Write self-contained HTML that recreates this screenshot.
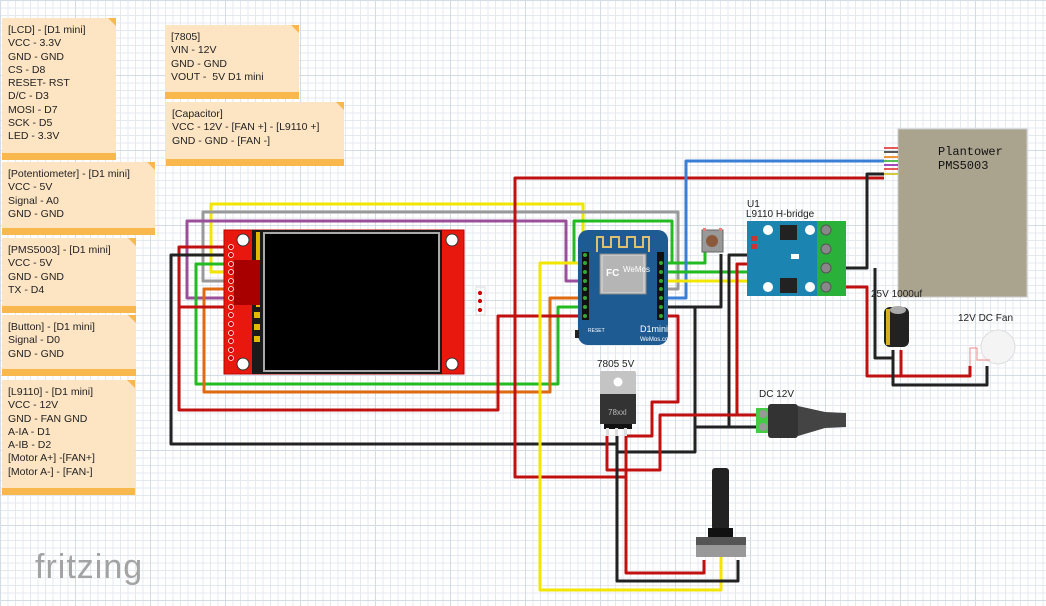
<!DOCTYPE html>
<html><head><meta charset="utf-8"><style>
body{margin:0;width:1046px;height:606px;overflow:hidden;background:#fff;font-family:"Liberation Sans",sans-serif}
.grid{position:absolute;left:0;top:0;width:1046px;height:606px;
background-image:linear-gradient(#d3dbe4 1px,transparent 1px),linear-gradient(90deg,#d3dbe4 1px,transparent 1px),linear-gradient(#e4e9ef 1px,transparent 1px),linear-gradient(90deg,#e4e9ef 1px,transparent 1px);
background-size:75px 75px,75px 75px,7.5px 7.5px,7.5px 7.5px}
.note{position:absolute;background:#fde5c4;font-size:10.5px;line-height:13.3px;color:#222;padding:6px 0 0 6px;box-sizing:border-box;border-bottom:7px solid #f8b84e}
.note:after{content:"";position:absolute;right:0;top:0;border-style:solid;border-width:0 8px 8px 0;border-color:transparent #f8b84e transparent transparent}
svg{position:absolute;left:0;top:0}
</style></head><body>
<div class="grid"></div>
<div class="note" style="left:2px;top:18px;width:114px;height:142px">[LCD] - [D1 mini]<br>VCC - 3.3V<br>GND - GND<br>CS - D8<br>RESET- RST<br>D/C - D3<br>MOSI - D7<br>SCK - D5<br>LED - 3.3V</div>
<div class="note" style="left:165px;top:25px;width:134px;height:74px">[7805]<br>VIN - 12V<br>GND - GND<br>VOUT - &nbsp;5V D1 mini</div>
<div class="note" style="left:166px;top:102px;width:178px;height:64px">[Capacitor]<br>VCC - 12V - [FAN +] - [L9110 +]<br>GND - GND - [FAN -]</div>
<div class="note" style="left:2px;top:162px;width:153px;height:73px">[Potentiometer] - [D1 mini]<br>VCC - 5V<br>Signal - A0<br>GND - GND</div>
<div class="note" style="left:2px;top:238px;width:134px;height:75px">[PMS5003] - [D1 mini]<br>VCC - 5V<br>GND - GND<br>TX - D4</div>
<div class="note" style="left:2px;top:315px;width:134px;height:61px">[Button] - [D1 mini]<br>Signal - D0<br>GND - GND</div>
<div class="note" style="left:2px;top:380px;width:133px;height:115px">[L9110] - [D1 mini]<br>VCC - 12V<br>GND - FAN GND<br>A-IA - D1<br>A-IB - D2<br>[Motor A+] -[FAN+]<br>[Motor A-] - [FAN-]</div>
<div style="position:absolute;left:35px;top:548px;font-size:34px;color:#a3a3a3;letter-spacing:1px">fritzing</div>
<svg width="1046" height="606" viewBox="0 0 1046 606">
<g fill="none" stroke-width="3" stroke-linejoin="round">
<polyline stroke="#f2e600" points="231,272 211,272 211,204 583,204 583,255 586,255"/>
<polyline stroke="#999" points="231,281 203,281 203,212 678,212 678,289 661,289"/>
<polyline stroke="#9b4f9b" points="231,298 187,298 187,221 566,221 566,281 586,281"/>
<polyline stroke="#22bb22" points="586,263 574,263 574,221 672,221 672,263 661,263"/>
<polyline stroke="#22bb22" points="661,263 705,263 705,252"/>
<polyline stroke="#22bb22" points="231,264 196,264 196,384 558,384 558,307 586,307"/>
<polyline stroke="#e06a10" points="231,289 204,289 204,392 550,392 550,298 586,298"/>
<polyline stroke="#c01010" points="231,247 179,247 179,410 498,410 498,316 586,316"/>
<polyline stroke="#c01010" points="231,307 179,307"/>
<polyline stroke="#222" points="231,255 171,255 171,444 617,444 617,436"/>
<polyline stroke="#c01010" points="884,178 515,178 515,477 626,477 626,436"/>
<polyline stroke="#f2e600" points="721,555 721,590 540,590 540,263 583,263"/>
<polyline stroke="#3a7fd5" points="661,298 686,298 686,161 884,161"/>
<polyline stroke="#22bb22" points="661,272 755,272"/>
<polyline stroke="#f2e600" points="661,281 755,281"/>
<polyline stroke="#222" points="661,307 721,307 721,254"/>
<polyline stroke="#222" points="695,307 695,452 617,452"/>
<polyline stroke="#222" points="756,427 695,427"/>
<polyline stroke="#222" points="729,427 729,255 755,255"/>
<polyline stroke="#c01010" points="756,415 660,415 660,470 607,470 607,436"/>
<polyline stroke="#c01010" points="755,264 737,264 737,415"/>
<polyline stroke="#c01010" points="661,316 678,316 678,402 652,402 652,436 626,436"/>
<polyline stroke="#c01010" points="626,436 626,573 704,573 704,560"/>
<polyline stroke="#222" points="617,436 617,581 738,581 738,560"/>
<polyline stroke="#222" points="884,174 867,174 867,268 840,268"/>
<polyline stroke="#222" points="875,268 875,358 893,358"/>
<polyline stroke="#c01010" points="840,287 867,287 867,376 970,376 970,366"/>
<polyline stroke="#c01010" points="901,350 901,376"/>
<polyline stroke="#222" points="893,350 893,385 987,385 987,366"/>
</g>
<rect x="224" y="230" width="240" height="144" fill="#e8180e" stroke="#b00" />
<rect x="260" y="230" width="182" height="144" fill="#1a1a1a"/>
<rect x="264" y="233" width="175" height="138" fill="#000" stroke="#aaa" stroke-width="2"/>
<rect x="252" y="230" width="8" height="144" fill="#1a1a1a"/>
<rect x="256" y="232" width="4" height="75" fill="#e2b800"/>
<rect x="234" y="260" width="26" height="45" fill="#a80000"/>
<rect x="254" y="312" width="6" height="6" fill="#e2b800"/><rect x="254" y="324" width="6" height="6" fill="#e2b800"/><rect x="254" y="336" width="6" height="6" fill="#e2b800"/>
<circle cx="243" cy="240" r="6" fill="#fff" stroke="#333"/><circle cx="243" cy="364" r="6" fill="#fff" stroke="#333"/>
<circle cx="452" cy="240" r="6" fill="#fff" stroke="#333"/><circle cx="452" cy="364" r="6" fill="#fff" stroke="#333"/>
<rect x="476" y="287" width="9" height="28" fill="none" stroke="#ddd"/>
<g fill="#c00" stroke="#fff" stroke-width="0.8"><circle cx="231" cy="247" r="2.5"/><circle cx="231" cy="255" r="2.5"/><circle cx="231" cy="264" r="2.5"/><circle cx="231" cy="272" r="2.5"/><circle cx="231" cy="281" r="2.5"/><circle cx="231" cy="289" r="2.5"/><circle cx="231" cy="298" r="2.5"/><circle cx="231" cy="307" r="2.5"/><circle cx="231" cy="315" r="2.5"/><circle cx="231" cy="324" r="2.5"/><circle cx="231" cy="333" r="2.5"/><circle cx="231" cy="341" r="2.5"/><circle cx="231" cy="350" r="2.5"/><circle cx="231" cy="358" r="2.5"/>
<circle cx="480" cy="293" r="2.5"/><circle cx="480" cy="301" r="2.5"/><circle cx="480" cy="310" r="2.5"/></g>
<rect x="578" y="230" width="90" height="115" rx="10" fill="#1e5b93"/>
<path d="M597 252 V237 H603 V247 H611 V237 H619 V247 H627 V237 H635 V247 H643 V237 H649 V252" fill="none" stroke="#e0c070" stroke-width="2"/>
<rect x="600" y="254" width="46" height="40" fill="#c8c8c8" stroke="#888"/>
<rect x="603" y="256" width="40" height="36" fill="#b5b5b5"/>
<text x="606" y="276" font-size="10" fill="#fff" font-weight="bold">FC</text>
<text x="623" y="272" font-size="8" fill="#fff">WeMos</text>
<g fill="#111"><rect x="582" y="252" width="7" height="68"/><rect x="657" y="252" width="7" height="68"/></g>
<g fill="#3a3" ><circle cx="585" cy="255" r="2"/><circle cx="585" cy="263" r="2"/><circle cx="585" cy="272" r="2"/><circle cx="585" cy="281" r="2"/><circle cx="585" cy="289" r="2"/><circle cx="585" cy="298" r="2"/><circle cx="585" cy="307" r="2"/><circle cx="585" cy="316" r="2"/>
<circle cx="661" cy="263" r="2"/><circle cx="661" cy="272" r="2"/><circle cx="661" cy="281" r="2"/><circle cx="661" cy="289" r="2"/><circle cx="661" cy="298" r="2"/><circle cx="661" cy="307" r="2"/><circle cx="661" cy="316" r="2"/></g>
<text x="588" y="332" font-size="5" fill="#fff">RESET</text>
<text x="640" y="332" font-size="9" fill="#fff">D1mini</text>
<text x="640" y="341" font-size="6" fill="#fff">WeMos.cc</text>
<rect x="575" y="330" width="4" height="8" fill="#222"/>
<rect x="702" y="230" width="21" height="22" fill="#999" stroke="#666"/>
<circle cx="712" cy="241" r="6" fill="#8b5a3c"/>
<rect x="703" y="228" width="3" height="3" fill="#e77"/><rect x="719" y="228" width="3" height="3" fill="#e77"/>
<text x="747" y="207" font-size="10" fill="#222">U1</text>
<text x="746" y="217" font-size="10" fill="#222">L9110 H-bridge</text>
<rect x="747" y="221" width="70" height="75" fill="#1c84b0"/>
<rect x="817" y="221" width="29" height="75" fill="#2ab13a"/>
<circle cx="768" cy="230" r="5" fill="#fff"/><circle cx="810" cy="230" r="5" fill="#fff"/><circle cx="768" cy="287" r="5" fill="#fff"/><circle cx="810" cy="287" r="5" fill="#fff"/>
<rect x="780" y="225" width="17" height="15" fill="#222"/><rect x="780" y="278" width="17" height="15" fill="#222"/>
<rect x="791" y="254" width="8" height="5" fill="#fff"/>
<rect x="751" y="236" width="6" height="5" fill="#c33"/><rect x="751" y="244" width="6" height="5" fill="#c33"/>
<g fill="#888" stroke="#555"><circle cx="826" cy="230" r="5"/><circle cx="826" cy="249" r="5"/><circle cx="826" cy="268" r="5"/><circle cx="826" cy="287" r="5"/></g>
<rect x="898" y="129" width="129" height="168" fill="#aaa48f" stroke="#ccc"/>
<text x="938" y="155" font-family="Liberation Mono" font-size="12" fill="#111">Plantower</text>
<text x="938" y="169" font-family="Liberation Mono" font-size="12" fill="#111">PMS5003</text>
<g stroke-width="1.5"><line x1="884" y1="148" x2="898" y2="148" stroke="#d22"/><line x1="884" y1="152" x2="898" y2="152" stroke="#222"/><line x1="884" y1="157" x2="898" y2="157" stroke="#e70"/><line x1="884" y1="161" x2="898" y2="161" stroke="#2a2"/><line x1="884" y1="165" x2="898" y2="165" stroke="#81a"/><line x1="884" y1="169" x2="898" y2="169" stroke="#d22"/><line x1="884" y1="174" x2="898" y2="174" stroke="#cb0"/></g>
<text x="597" y="367" font-size="10" fill="#222">7805 5V</text>
<rect x="600" y="371" width="36" height="24" fill="#c4c4c4" rx="2"/>
<circle cx="618" cy="382" r="4.5" fill="#fff"/>
<rect x="600" y="394" width="36" height="30" fill="#333"/>
<text x="608" y="415" font-size="8" fill="#bbb">78xxl</text>
<rect x="604" y="424" width="28" height="5" fill="#111"/>
<g fill="#ddd"><rect x="606" y="428" width="3" height="8"/><rect x="615" y="428" width="3" height="8"/><rect x="624" y="428" width="3" height="8"/></g>
<text x="759" y="397" font-size="10" fill="#222">DC 12V</text>
<rect x="756" y="408" width="14" height="25" fill="#4c4"/>
<circle cx="763" cy="414" r="4" fill="#999"/><circle cx="763" cy="427" r="4" fill="#999"/>
<rect x="768" y="404" width="30" height="34" rx="3" fill="#333"/>
<path d="M798 406 L825 412 L846 413 V427 L825 428 L798 436 Z" fill="#444"/>
<text x="871" y="297" font-size="10" fill="#222">25V 1000uf</text>
<rect x="884" y="307" width="25" height="40" rx="6" fill="#222"/>
<rect x="886" y="309" width="4" height="36" fill="#d4b020"/>
<ellipse cx="898" cy="310" rx="8" ry="4" fill="#aaa"/>
<text x="958" y="321" font-size="10" fill="#222">12V DC Fan</text>
<ellipse cx="998" cy="347" rx="17" ry="17" fill="#f4f4f4" stroke="#ddd"/>
<polyline points="970,366 970,348 977,348 977,360 990,360" fill="none" stroke="#e88" stroke-width="1"/>
<rect x="712" y="468" width="17" height="62" rx="3" fill="#222"/>
<rect x="708" y="528" width="25" height="10" fill="#111"/>
<rect x="696" y="537" width="50" height="8" fill="#555"/>
<rect x="696" y="545" width="50" height="12" fill="#999"/>
</svg>
</body></html>
